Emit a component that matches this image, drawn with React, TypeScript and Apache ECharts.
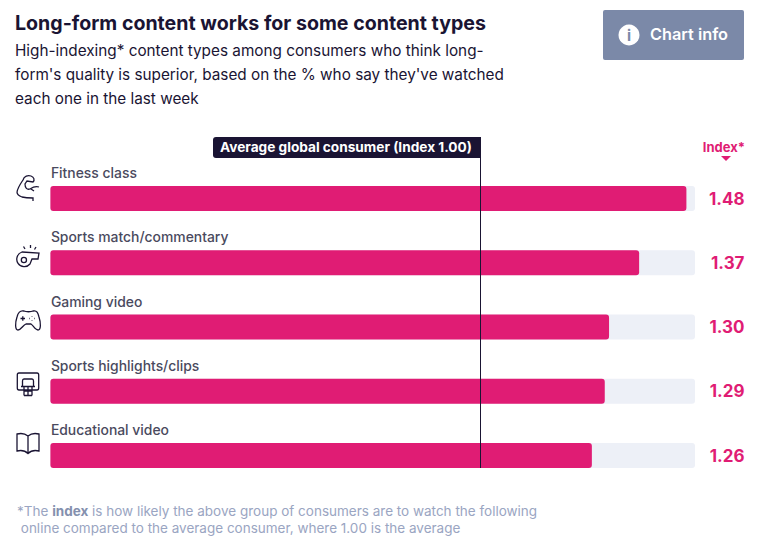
import React, { useEffect, useRef } from "react";
import * as echarts from "echarts";

const categories = ["Fitness class", "Sports match/commentary", "Gaming video", "Sports highlights/clips", "Educational video"];
const indexValues = [1.48, 1.37, 1.3, 1.29, 1.26];
const trackValues = [1.5, 1.5, 1.5, 1.5, 1.5];
const averageIndex = 1;
const averageLabel = "Average global consumer (Index 1.00)";
const titleText = "Long-form content works for some content types";
const subtitleLines = [
  "High-indexing* content types among consumers who think long-",
  "form's quality is superior, based on the % who say they've watched",
  "each one in the last week",
];
const footnoteLines = [
  "{n|*The }{b|index}{n| is how likely the above group of consumers are to watch the following}",
  "{n| online compared to the average consumer, where 1.00 is the average}",
];

const DARK = "#1a1433";
const PINK = "#e01c74";
const GREY = "#4a4a5e";
const FONT = "Inter";

const iconPaths: Record<string, string> = {
  arm: "M17 192 C18 187 21 183 23 180 C24 176 28 175 31 176 C34 177 35 180 33 182 L27 181 L25 184 C25 188 27 190 30 189 C33 187 36 186 39 187 M31 189 L34 191 M17 192 C17 195 19 196 22 197 C26 198 29 198 33 198 L33 201",
  whistle: "M22 252 L39 253 L38 259 L32 259 L30 264 A7.5 7.5 0 1 1 22 252 Z M26.5 260 A2.6 2.6 0 1 1 21.3 260 A2.6 2.6 0 1 1 26.5 260 Z M23.5 246.5 L25 249 M30.5 245 L30.5 248 M36 247 L34.5 249.5",
  pad: "M24 311 C26 312 31 312 33 311 C37 310 38 313 39 317 C41 323 41 330 38 330 C35 330 33 325 31 324 L26 324 C23 325 21 330 18 330 C15 330 15 323 17 317 C18 313 20 310 24 311 Z M20.5 318.5 L25 318.5 M22.8 316.3 L22.8 320.7 M32 316 L32 316.6 M32 320.4 L32 321 M29.4 318.5 L30 318.5 M34 318.5 L34.6 318.5",
  hoop: "M19 373 L37 373 C38 373 38.7 374 38.7 375 L38.7 388 C38.7 389 38 390 37 390 L19 390 C18 390 17.3 389 17.3 388 L17.3 375 C17.3 374 18 373 19 373 Z M22.5 386.5 L22.5 381 C22.5 380 23 379 24 379 L32 379 C33 379 33.5 380 33.5 381 L33.5 386.5 M21 386.5 L35 386.5 M24 386.5 L24 395.5 M28 386.5 L28 395.5 M32 386.5 L32 395.5 M24 391 L32 391 M24 395.5 L32 395.5",
  book: "M28 436 C25 433.5 21 433 17 434 L17 451 C21 450 25 450.5 28 453.5 C31 450.5 35 450 39 451 L39 434 C35 433 31 433.5 28 436 Z M28 436 L28 453.5",
};
Object.keys(iconPaths).forEach((k) => {
  echarts.graphic.registerShape(k, echarts.graphic.extendPath(iconPaths[k], {}) as any);
});

export default function App() {
  const ref = useRef<HTMLDivElement>(null);
  useEffect(() => {
    const chart = echarts.init(ref.current!, undefined, { renderer: "svg" });
    chart.setOption({
      animation: false,
      backgroundColor: "#ffffff",
      textStyle: { fontFamily: FONT },
      grid: { left: 50.4, top: 166.4, width: 644.6, height: 321.25, containLabel: false },
      xAxis: { type: "value", min: 0, max: 1.5, show: false },
      yAxis: [
        { type: "category", data: categories, inverse: true, show: false },
        {
          type: "category",
          data: indexValues.map((v) => v.toFixed(2)),
          inverse: true,
          position: "right",
          axisLine: { show: false },
          axisTick: { show: false },
          axisLabel: {
            align: "right",
            margin: 49.5,
            color: PINK,
            fontFamily: FONT,
            fontWeight: 700,
            fontSize: 17,
          },
        },
      ],
      series: [
        {
          type: "bar",
          data: trackValues,
          barWidth: 25,
          barGap: "-100%",
          silent: true,
          itemStyle: { color: "#edf0f7", borderRadius: 3 },
          label: {
            show: true,
            position: [0.5, -20],
            formatter: (p: any) => p.name,
            color: GREY,
            fontFamily: FONT,
            fontSize: 13.9,
            fontWeight: 500,
          },
        },
        {
          type: "bar",
          data: indexValues,
          barWidth: 25,
          silent: true,
          itemStyle: { color: PINK, borderRadius: 3 },
          markLine: {
            silent: true,
            symbol: "none",
            label: { show: false },
            lineStyle: { color: DARK, width: 1, type: "solid" },
            data: [[{ xAxis: averageIndex, y: 137 }, { xAxis: averageIndex, y: 468 }]],
          },
        },
      ],
      graphic: [
        { type: "text", x: 15, y: 13, style: { text: titleText, fill: DARK, font: `700 19.6px ${FONT}` } },
        ...subtitleLines.map((t, i) => ({
          type: "text",
          x: 15,
          y: 43 + i * 24,
          style: { text: t, fill: DARK, font: `400 15.3px ${FONT}` },
        })),
        { type: "rect", x: 603, y: 10, shape: { width: 141, height: 50, r: 2 }, style: { fill: "#7b89a8" } },
        { type: "circle", shape: { cx: 629, cy: 35, r: 10.5 }, style: { fill: "#ffffff" } },
        { type: "text", x: 629, y: 35, style: { text: "i", fill: "#7b89a8", font: `700 15px ${FONT}`, textAlign: "center", textVerticalAlign: "middle" } },
        { type: "text", x: 650, y: 26, style: { text: "Chart info", fill: "#ffffff", font: `600 16.3px ${FONT}` } },
        { type: "rect", x: 213, y: 137, shape: { width: 267, height: 21, r: [3, 0, 0, 3] }, style: { fill: DARK } },
        { type: "text", x: 220, y: 140, style: { text: averageLabel, fill: "#ffffff", font: `700 13.65px ${FONT}` } },
        { type: "text", x: 745, y: 140, style: { text: "Index*", fill: PINK, font: `700 13px ${FONT}`, textAlign: "right" } },
        { type: "polygon", shape: { points: [[721, 156], [731, 156], [726, 161]] }, style: { fill: PINK } },
        ...Object.keys(iconPaths).map((k) => ({
          type: k,
          style: { fill: "none", stroke: DARK, lineWidth: 1.3 },
        })),
        {
          type: "text",
          x: 17,
          y: 502,
          style: {
            text: footnoteLines.join("\n"),
            fill: "#9aa5c2",
            font: `400 13.5px ${FONT}`,
            lineHeight: 17,
            rich: {
              n: { fill: "#9aa5c2", font: `400 13.5px ${FONT}`, lineHeight: 17 },
              b: { fill: "#8490ae", font: `700 13.5px ${FONT}`, lineHeight: 17 },
            },
          },
        },
      ],
    } as any);
    return () => chart.dispose();
  }, []);
  return <div ref={ref} style={{ position: "absolute", left: 0, top: 0, width: 783, height: 541 }} />;
}
